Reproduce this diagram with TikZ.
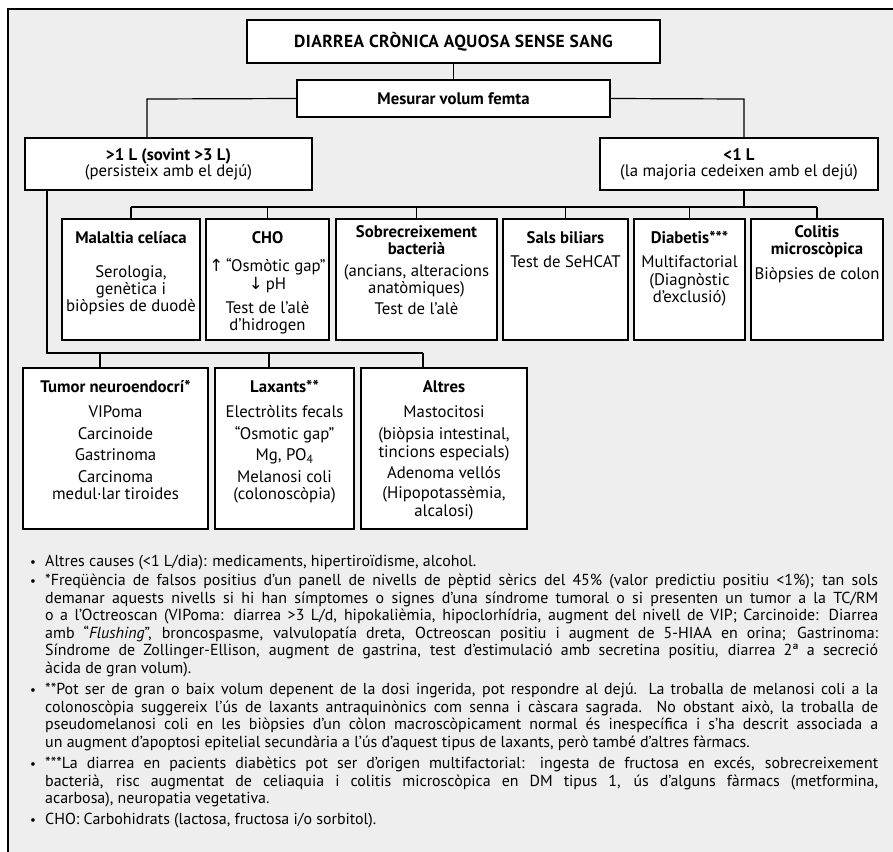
\documentclass[tikz,border=0pt]{standalone}
\usepackage{fontspec}
\usepackage{graphicx}
\setmainfont{PT Sans}
\newfontfamily\arrowfont{DejaVu Sans}
\definecolor{panelgray}{HTML}{EEEEEE}
\newlength\notew
\setlength\notew{833bp}
% centred block whose baseline is the baseline of its first line
\newcommand\tx[2]{\vtop{\hsize=#1\parindent=0pt\centering #2\par}}
% justified note line (squeezed horizontally if it is too long)
\newcommand\jl[1]{\setbox0=\hbox{#1}\ifdim\wd0>\notew\resizebox{\notew}{\height}{\box0}\else\hbox to \notew{\unhbox0}\fi}
% last line of a note paragraph
\newcommand\lastln[1]{\hbox{#1}}
\newcommand\up{{\arrowfont\char"2191}}
\newcommand\down{{\arrowfont\char"2193}}
\begin{document}
\begin{tikzpicture}[x=1bp,y=-1bp,
  panel/.style={draw=black, line width=2.4bp, fill=panelgray},
  box/.style={draw=black, line width=2.1bp, fill=white, inner sep=0pt, outer sep=0pt},
  conn/.style={draw=black, line width=1.2bp},
  txt/.style={inner sep=0pt, anchor=base, font=\fontsize{16.8}{17}\selectfont},
  ttl/.style={inner sep=0pt, anchor=base, font=\fontsize{16.8}{17}\selectfont\bfseries},
  note/.style={inner sep=0pt, anchor=base west, font=\fontsize{16}{17.6}\selectfont},
  dot/.style={inner sep=0pt, anchor=base, font=\fontsize{13}{14}\selectfont}]
\useasboundingbox (0,0) rectangle (893,852);
\clip (0,0) rectangle (893,852);
\fill[white] (0,0) rectangle (893,852);
\path[panel] (8,9) rectangle (905,870);

% ---- decision boxes ----
\node[box, minimum width=413bp, minimum height=43bp] (top) at (453.5,41.5) {};
\node[box, minimum width=313bp, minimum height=37bp] (mes) at (453.5,98.5) {};
\node[box, minimum width=287bp, minimum height=52bp] (gt) at (168.5,164) {};
\node[box, minimum width=278bp, minimum height=52bp] (lt) at (739,164) {};

% ---- causes, low volume ----
\node[box, minimum width=138bp, minimum height=121bp] (mal) at (131,279.5) {};
\node[box, minimum width=123bp, minimum height=121bp] (cho) at (267.5,279.5) {};
\node[box, minimum width=161bp, minimum height=121bp] (sob) at (416.5,279.5) {};
\node[box, minimum width=125bp, minimum height=121bp] (sal) at (565.5,279.5) {};
\node[box, minimum width=111bp, minimum height=121bp] (dia) at (689.5,279.5) {};
\node[box, minimum width=132bp, minimum height=121bp] (col) at (817,279.5) {};

% ---- causes, high volume ----
\node[box, minimum width=185bp, minimum height=161bp] (tum) at (115.5,448.5) {};
\node[box, minimum width=139bp, minimum height=161bp] (lax) at (284.5,448.5) {};
\node[box, minimum width=166bp, minimum height=161bp] (alt) at (444,448.5) {};

% ---- connectors ----
\draw[conn] (top.south) -- (mes.north);
\coordinate (kL) at (147,99);
\coordinate (kR) at (744,99);
\draw[conn] (mes.west) -- (kL) -- (kL |- gt.north);
\draw[conn] (mes.east) -- (kR) -- (kR |- lt.north);
\coordinate (busR) at (744,207);
\draw[conn] (busR |- lt.south) -- (busR);
\draw[conn] (mal.north |- busR) -- (col.north |- busR);
\foreach \n in {mal,cho,sob,sal,dia,col}
  \draw[conn] (\n.north |- busR) -- (\n.north);
\coordinate (busL) at (47,353);
\coordinate (dT) at (100,353);
\coordinate (dX) at (269,353);
\coordinate (dA) at (423,353);
\draw[conn] (busL |- gt.south) -- (busL) -- (dA);
\draw[conn] (dT) -- (dT |- tum.north);
\draw[conn] (dX) -- (dX |- lax.north);
\draw[conn] (dA) -- (dA |- alt.north);

% ---- box texts ----
\node[ttl, font=\fontsize{17.5}{18}\selectfont\bfseries] (topT) at (453.5,47.5) {\addfontfeatures{LetterSpace=2.5}DIARREA CRÒNICA AQUOSA SENSE SANG};
\node[ttl] (mesT) at (453.5,104.5) {Mesurar volum femta};
\node[txt] (gtT) at (168.5,160.5) {\tx{280bp}{\textbf{>1 L (sovint >3 L)}\\[-0.5bp](persisteix amb el dejú)}};
\node[txt] (ltT) at (739,160.5) {\tx{275bp}{\textbf{<1 L}\\[-0.5bp](la majoria cedeixen amb el dejú)}};

\node[txt] (malT) at (131,243.5) {\tx{136bp}{\textbf{Malaltia celíaca}\\[17bp]Serologia,\\genètica i\\biòpsies de duodè}};
\node[txt] (choT) at (267.5,243.5) {\tx{121bp}{\textbf{CHO}\\[11.5bp]\up\,“Osmòtic gap”\\[1bp]\down\,pH\\[7bp]Test de l’alè\\d’hidrogen}};
\node[txt] (sobT) at (416.5,237.5) {\tx{159bp}{\textbf{Sobrecreixement}\\\textbf{bacterià}\\[5.5bp](ancians, alteracions\\anatòmiques)\\[4bp]Test de l’alè}};
\node[txt] (salT) at (565.5,243.5) {\tx{123bp}{\textbf{Sals biliars}\\[7bp]Test de SeHCAT}};
\node[txt] (diaT) at (689.5,243.5) {\tx{109bp}{\textbf{Diabetis***}\\[7bp]Multifactorial\\[1bp](Diagnòstic\\d’exclusió)}};
\node[txt] (colT) at (817,237.5) {\tx{130bp}{\textbf{Colitis}\\\textbf{microscòpica}\\[8bp]Biòpsies de colon}};

\node[txt] (tumT) at (115.5,392.5) {\tx{183bp}{\textbf{Tumor neuroendocrí*}\\[8.5bp]VIPoma\\[5bp]Carcinoide\\[4bp]Gastrinoma\\[5bp]Carcinoma\\medul·lar tiroides}};
\node[txt] (laxT) at (284.5,392.5) {\tx{137bp}{\textbf{Laxants**}\\[8.5bp]Electròlits fecals\\[5bp]“Osmotic gap”\\[4bp]Mg, PO\textsubscript{4}\\[5bp]Melanosi coli\\(colonoscòpia)}};
\node[txt] (altT) at (444,392.5) {\tx{164bp}{\textbf{Altres}\\[8.5bp]Mastocitosi\\[5bp](biòpsia intestinal,\\[1bp]tincions especials)\\[4bp]Adenoma vellós\\[3bp](Hipopotassèmia,\\[1bp]alcalosi)}};

% ---- notes ----
\node[dot] (b1) at (33,566) {•};
\node[note] (n1) at (45,566) {\vtop{\lastln{Altres causes (<1 L/dia): medicaments, hipertiroïdisme, alcohol.}}};
\node[dot] (b2) at (33,585.5) {•};
\node[note] (n2) at (45,585.5) {\vtop{\baselineskip=17.6bp
\jl{*Freqüència de falsos positius d’un panell de nivells de pèptid sèrics del 45\% (valor predictiu positiu <1\%); tan sols}
\jl{demanar aquests nivells si hi han símptomes o signes d’una síndrome tumoral o si presenten un tumor a la TC/RM}
\jl{o a l’Octreoscan (VIPoma: diarrea >3 L/d, hipokalièmia, hipoclorhídria, augment del nivell de VIP; Carcinoide: Diarrea}
\jl{amb “\textit{Flushing}”, broncospasme, valvulopatía dreta, Octreoscan positiu i augment de 5-HIAA en orina; Gastrinoma:}
\jl{Síndrome de Zollinger-Ellison, augment de gastrina, test d’estimulació amb secretina positiu, diarrea 2ª a secreció}
\lastln{àcida de gran volum).}}};
\node[dot] (b3) at (33,694.5) {•};
\node[note] (n3) at (45,694.5) {\vtop{\baselineskip=17.6bp
\jl{**Pot ser de gran o baix volum depenent de la dosi ingerida, pot respondre al dejú. La troballa de melanosi coli a la}
\jl{colonoscòpia suggereix l’ús de laxants antraquinònics com senna i càscara sagrada. No obstant això, la troballa de}
\jl{pseudomelanosi coli en les biòpsies d’un còlon macroscòpicament normal és inespecífica i s’ha descrit associada a}
\lastln{un augment d’apoptosi epitelial secundària a l’ús d’aquest tipus de laxants, però també d’altres fàrmacs.}}};
\node[dot] (b4) at (33,768.5) {•};
\node[note] (n4) at (45,768.5) {\vtop{\baselineskip=17.6bp
\jl{***La diarrea en pacients diabètics pot ser d’origen multifactorial: ingesta de fructosa en excés, sobrecreixement}
\jl{bacterià, risc augmentat de celiaquia i colitis microscòpica en DM tipus 1, ús d’alguns fàrmacs (metformina,}
\lastln{acarbosa), neuropatia vegetativa.}}};
\node[dot] (b5) at (33,824.5) {•};
\node[note] (n5) at (45,824.5) {\vtop{\lastln{CHO: Carbohidrats (lactosa, fructosa i/o sorbitol).}}};
\end{tikzpicture}
\end{document}
